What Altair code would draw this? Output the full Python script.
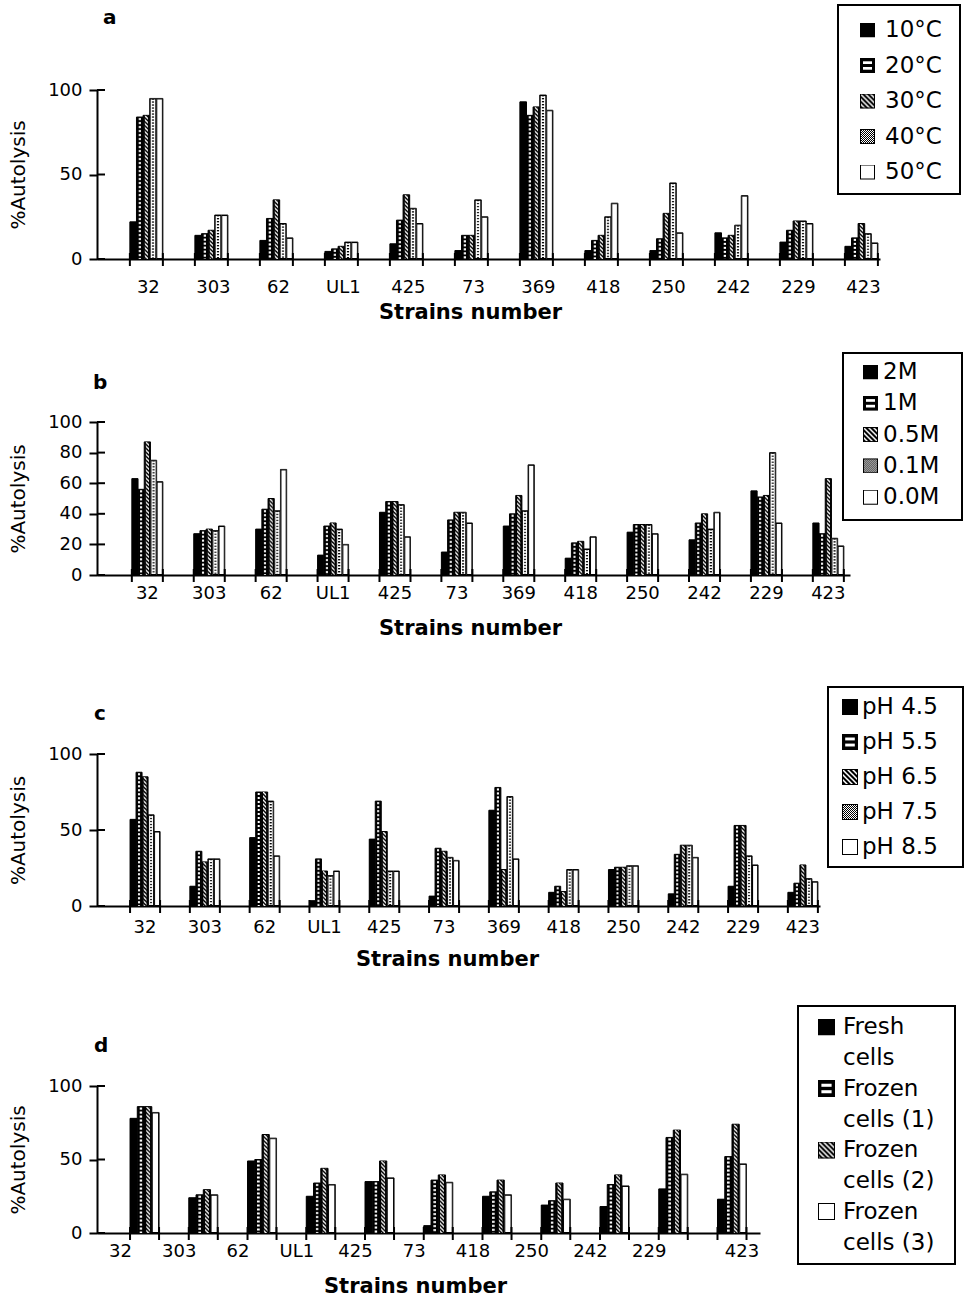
import base64
import pandas as pd
import altair as alt

# ---------------- data ----------------
strains = ["32", "303", "62", "UL1", "425", "73", "369", "418", "250", "242", "229", "423"]
strains_d = ["32", "303", "62", "UL1", "425", "73", "418", "250", "242", "229", "423"]

temp_series = ["10°C", "20°C", "30°C", "40°C", "50°C"]
temp_10 = [22, 14, 11, 4.5, 9, 5, 93, 5, 5, 15.5, 10, 7.5]
temp_20 = [84, 15, 24, 6, 23, 14, 85, 11, 12, 12.5, 17, 12.5]
temp_30 = [85, 17, 35, 7.5, 38, 14, 90, 14, 27, 14, 22.5, 21]
temp_40 = [95, 26, 21, 10, 30, 35, 97, 25, 45, 20, 22.5, 15]
temp_50 = [95, 26, 12.5, 10, 21, 25, 88, 33, 15.5, 37.5, 21, 9.5]

nacl_series = ["2M", "1M", "0.5M", "0.1M", "0.0M"]
nacl_2 = [63, 27, 30, 13, 41, 15, 32, 11, 28, 23, 55, 34]
nacl_1 = [56, 29, 43, 32, 48, 36, 40, 21, 33, 34, 51, 27]
nacl_05 = [87, 30, 50, 34, 48, 41, 52, 22, 33, 40, 52, 63]
nacl_01 = [75, 29, 42, 30, 46, 41, 42, 17, 33, 30, 80, 24]
nacl_00 = [61, 32, 69, 20, 25, 34, 72, 25, 27, 41, 34, 19]

ph_series = ["pH 4.5", "pH 5.5", "pH 6.5", "pH 7.5", "pH 8.5"]
ph_45 = [57, 13, 45, 3.5, 44, 6.5, 63, 9, 24, 8, 13, 9]
ph_55 = [88, 36, 75, 31, 69, 38, 78, 13, 25.5, 34, 53, 15]
ph_65 = [85, 29, 75, 23, 49, 36, 24, 9.5, 25.5, 40, 53, 27]
ph_75 = [60, 31, 69, 20, 23, 32, 72, 24, 26.5, 40, 33, 18]
ph_85 = [49, 31, 33, 23, 23, 30, 31, 24, 26.5, 32, 27, 16]

cell_series = ["Fresh cells", "Frozen cells (1)", "Frozen cells (2)", "Frozen cells (3)"]
cell_legend = ["Fresh\ncells", "Frozen\ncells (1)", "Frozen\ncells (2)", "Frozen\ncells (3)"]
cell_fresh = [78, 24, 49, 25, 35, 5, 25, 19, 18, 30, 23]
cell_f1 = [86, 26, 50, 34, 35, 36, 28, 22, 33, 65, 52]
cell_f2 = [86, 29.5, 67, 44, 49, 39.5, 36, 34, 39.5, 70, 74]
cell_f3 = [82, 26, 64.5, 33, 37.5, 34.5, 26, 23, 32, 40, 47]

ticks_50 = [0, 50, 100]
ticks_20 = [0, 20, 40, 60, 80, 100]

FONT = "DejaVu Sans"

# ---------------- fill patterns (svg tiles) ----------------
def svg(body, defs=""):
    s = ('<svg xmlns="http://www.w3.org/2000/svg" width="100%" height="100%">'
         f'<defs>{defs}</defs>{body}</svg>')
    return "data:image/svg+xml;base64," + base64.b64encode(s.encode("utf-8")).decode("ascii")

FULL = 'x="0" y="0" width="100%" height="100%"'
BORDER = f'<rect {FULL} fill="none" stroke="#000" stroke-width="2"/>'

bar_solid = svg(f'<rect {FULL} fill="#000"/>')
bar_squares = svg(
    f'<rect {FULL} fill="#000"/><svg x="30%" y="0" width="40%" height="100%"><rect {FULL} fill="url(#q)"/></svg>',
    '<pattern id="q" patternUnits="userSpaceOnUse" width="10" height="4">'
    '<rect x="0" y="0" width="10" height="4" fill="#000"/><rect x="0" y="1" width="10" height="2" fill="#fff"/></pattern>')
bar_diag = svg(
    f'<rect {FULL} fill="#000"/><svg x="22%" y="0" width="56%" height="100%"><rect {FULL} fill="url(#d)"/></svg>',
    '<pattern id="d" patternUnits="userSpaceOnUse" width="4" height="4">'
    '<rect x="0" y="0" width="4" height="4" fill="#000"/>'
    '<path d="M0,0L4,4M-1,3L1,5M3,-1L5,1" stroke="#fff" stroke-width="1.3"/></pattern>')
bar_dots = svg(
    f'<rect {FULL} fill="#fff"/><svg x="30%" y="0" width="40%" height="100%"><rect {FULL} fill="url(#v)"/></svg>' + BORDER,
    '<pattern id="v" patternUnits="userSpaceOnUse" width="2" height="3">'
    '<rect x="0" y="0" width="2" height="3" fill="#fff"/><rect x="0" y="0" width="2" height="1.2" fill="#000"/></pattern>')
bar_white = svg(f'<rect {FULL} fill="#fff"/>' + BORDER)

ic_lines = svg(f'<rect {FULL} fill="#000"/>'
               '<rect x="20%" y="22%" width="60%" height="18%" fill="#fff"/>'
               '<rect x="20%" y="60%" width="60%" height="18%" fill="#fff"/>')
ic_diag = svg(f'<rect {FULL} fill="url(#ld)"/>' + BORDER,
              '<pattern id="ld" patternUnits="userSpaceOnUse" width="5" height="5">'
              '<rect x="0" y="0" width="5" height="5" fill="#000"/>'
              '<path d="M0,0L5,5M-1,4L1,6M4,-1L6,1" stroke="#fff" stroke-width="1.5"/></pattern>')
ic_dots = svg(f'<rect {FULL} fill="url(#lg)"/>' + BORDER,
              '<pattern id="lg" patternUnits="userSpaceOnUse" width="2" height="2">'
              '<rect x="0" y="0" width="2" height="2" fill="#fff"/><rect x="0" y="0" width="1" height="1" fill="#000"/>'
              '<rect x="1" y="1" width="1" height="1" fill="#000"/></pattern>')

PAT5 = [bar_solid, bar_squares, bar_diag, bar_dots, bar_white]
ICON5 = [bar_solid, ic_lines, ic_diag, ic_dots, bar_white]
FALL5 = ["#000", "#555", "#666", "#ddd", "#fff"]
PAT4 = [bar_solid, bar_squares, bar_diag, bar_white]
ICON4 = [bar_solid, ic_lines, ic_diag, bar_white]
FALL4 = ["#000", "#555", "#666", "#fff"]


def panel(letter, letter_x, letter_y, strain_list, series_list, value_lists, legend_labels,
          pats, icons, falls, W, H, band, yticks, label_pad, label_off, title_x,
          box, leg_y0, leg_dy, icon_x, icon_size, text_x, text_size, line_h, bound_bottom):
    rows = []
    for si, (s, vals) in enumerate(zip(series_list, value_lists)):
        for st, v in zip(strain_list, vals):
            rows.append({"strain": st, "series": s, "value": v, "zero": 0, "url": pats[si]})
    df = pd.DataFrame(rows)

    # band geometry (same formula Vega uses for the band scale below)
    n = len(strain_list)
    step = W / (n - band[0] + 2 * band[1])
    bw = step * (1 - band[0])
    start = (W - step * (n - band[0])) * band[2]

    xscale = alt.Scale(domain=strain_list, paddingInner=band[0], paddingOuter=band[1], align=band[2])
    yscale = alt.Scale(domain=[0, 100], nice=False)
    off = alt.XOffset("series:N", scale=alt.Scale(domain=series_list, paddingInner=0, paddingOuter=0))

    xaxis = alt.Axis(title="Strains number", ticks=False, labelAngle=0, labelPadding=label_pad,
                     labelOffset=label_off,
                     labelFontSize=18, labelFont=FONT, labelColor="black", domainColor="black",
                     domainWidth=2, titleFont=FONT, titleFontSize=21, titleFontWeight="bold",
                     titleColor="black", titleX=title_x, titleY=53, titleBaseline="middle",
                     titleAlign="center", grid=False, labelOverlap=False)
    yaxis = alt.Axis(values=yticks, tickSize=8, tickWidth=2, tickColor="black", domainColor="black",
                     domainWidth=2, labelFontSize=18, labelFont=FONT, labelColor="black", labelPadding=7,
                     title="%Autolysis", titleFont=FONT, titleFontSize=20, titleFontWeight="normal",
                     titleColor="black", titleX=-79, titleY=H / 2, titleAngle=270,
                     titleBaseline="middle", titleAlign="center", grid=False)

    base = alt.Chart(df)
    bars = base.mark_bar(stroke="black", strokeWidth=1).encode(
        x=alt.X("strain:N", scale=xscale, axis=xaxis),
        xOffset=off,
        y=alt.Y("value:Q", scale=yscale, axis=yaxis),
        color=alt.Color("series:N", scale=alt.Scale(domain=series_list, range=falls), legend=None),
    )
    imgs = base.mark_image(aspect=False).encode(
        x=alt.X("strain:N", scale=xscale, axis=xaxis),
        xOffset=off,
        y=alt.Y("value:Q", scale=yscale, axis=yaxis),
        y2="zero:Q",
        url="url:N",
    )

    # tick stubs crossing the x axis at both edges of every bar group
    edge_df = pd.DataFrame({"k": list(range(2 * n))})
    edges = alt.Chart(edge_df).transform_calculate(
        px=f"{start} + floor(datum.k / 2) * {step} + (datum.k % 2) * {bw}"
    ).mark_rule(color="black", strokeWidth=2).encode(
        x=alt.X("px:Q", scale=None), y=alt.value(H - 6), y2=alt.value(H + 7))

    yin = alt.Chart(pd.DataFrame({"t": yticks})).transform_calculate(
        py=f"{H} - datum.t * {H / 100}"
    ).mark_rule(color="black", strokeWidth=2).encode(
        y=alt.Y("py:Q", scale=None), x=alt.value(0), x2=alt.value(8))

    one = pd.DataFrame({"k": [0]})
    boxl = alt.Chart(one).mark_rect(fill="white", stroke="black", strokeWidth=2).encode(
        x=alt.value(box[0]), x2=alt.value(box[2]), y=alt.value(box[1]), y2=alt.value(box[3]))

    leg_rows = []
    icon_rows = []
    for i, lab in enumerate(legend_labels):
        icon_rows.append({"i": i, "icon": icons[i]})
        for j, line in enumerate(lab.split("\n")):
            leg_rows.append({"i": i, "j": j, "label": line})
    icon_l = alt.Chart(pd.DataFrame(icon_rows)).transform_calculate(
        yt=f"{leg_y0} + datum.i * {leg_dy} - {icon_size / 2}",
        yb=f"{leg_y0} + datum.i * {leg_dy} + {icon_size / 2}",
    ).mark_image(aspect=False).encode(
        x=alt.value(icon_x), x2=alt.value(icon_x + icon_size),
        y=alt.Y("yt:Q", scale=None), y2="yb:Q", url="icon:N")
    text_l = alt.Chart(pd.DataFrame(leg_rows)).transform_calculate(
        yc=f"{leg_y0} + datum.i * {leg_dy} + datum.j * {line_h}"
    ).mark_text(align="left", baseline="middle", font=FONT, fontSize=text_size, color="black").encode(
        x=alt.value(text_x), y=alt.Y("yc:Q", scale=None), text="label:N")

    let = alt.Chart(one).mark_text(align="left", baseline="middle", font=FONT, fontSize=20,
                                   fontWeight="bold", color="black").encode(
        x=alt.value(letter_x), y=alt.value(letter_y), text=alt.value(letter))

    bound = alt.Chart(one).mark_rule(stroke="white", strokeOpacity=0).encode(
        x=alt.value(-97), y=alt.value(-88), y2=alt.value(bound_bottom))

    return alt.layer(boxl, bars, imgs, edges, yin, icon_l, text_l, let, bound).properties(width=W, height=H)


pa = panel("a", 6, -72, strains, temp_series, [temp_10, temp_20, temp_30, temp_40, temp_50], temp_series,
           PAT5, ICON5, FALL5, 783, 169, (0.4923, 0.269, 0.94), ticks_50, 19, 2, 373,
           (741, -85, 863, 104), -60, 35.5, 763, 15, 788, 23, 31, 244)
pb = panel("b", -4, -39, strains, nacl_series, [nacl_2, nacl_1, nacl_05, nacl_01, nacl_00], nacl_series,
           PAT5, ICON5, FALL5, 753, 153, (0.499, 0.331, 0.85), ticks_20, 9, 0, 373,
           (746, -69, 865, 98), -50, 31.3, 766, 15, 786, 23, 31, 244)
pc = panel("c", -3, -40, strains, ph_series, [ph_45, ph_55, ph_65, ph_75, ph_85], ph_series,
           PAT5, ICON5, FALL5, 723, 152, (0.498, 0.294, 0.94), ticks_50, 12, 0, 350,
           (731, -67, 866, 113), -47, 35, 745, 16, 765, 23, 31, 244)
pd_ = panel("d", -3, -40, strains_d, cell_series, [cell_fresh, cell_f1, cell_f2, cell_f3], cell_legend,
            PAT4, ICON4, FALL4, 663, 147, (0.506, 0.396, 0.71), ticks_50, 9,
            {"condition": {"test": "datum.value === '423'", "value": 10}, "value": -24}, 318,
            (701, -80, 858, 178), -59, 61.5, 721, 17, 746, 23, 31, 0)

chart = alt.vconcat(pa, pb, pc, pd_, spacing=0).resolve_scale(
    x="independent", y="independent", xOffset="independent", color="independent"
).resolve_axis(x="independent", y="independent").properties(
    padding={"left": 0, "top": 2, "right": 0, "bottom": 0}
).configure_view(strokeWidth=0).configure_axis(grid=False)

chart.save("out.html", embed_options={"renderer": "svg", "actions": False})
